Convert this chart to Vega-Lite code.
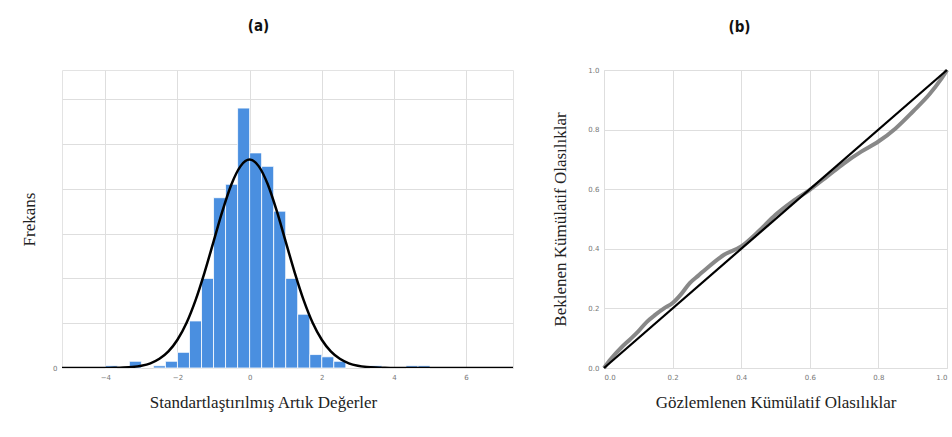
{
  "$schema": "https://vega.github.io/schema/vega-lite/v6.json",
  "background": "white",
  "padding": {"left": 20, "top": 18, "right": 2, "bottom": 5},
  "spacing": 37,
  "datasets": {
    "bins": [
      {"lo": -4.0, "hi": -3.667, "n": 1},
      {"lo": -3.333, "hi": -3.0, "n": 3},
      {"lo": -2.667, "hi": -2.333, "n": 1},
      {"lo": -2.333, "hi": -2.0, "n": 3},
      {"lo": -2.0, "hi": -1.667, "n": 7},
      {"lo": -1.667, "hi": -1.333, "n": 21},
      {"lo": -1.333, "hi": -1.0, "n": 40},
      {"lo": -1.0, "hi": -0.667, "n": 76},
      {"lo": -0.667, "hi": -0.333, "n": 82},
      {"lo": -0.333, "hi": 0.0, "n": 116},
      {"lo": 0.0, "hi": 0.333, "n": 96},
      {"lo": 0.333, "hi": 0.667, "n": 90},
      {"lo": 0.667, "hi": 1.0, "n": 70},
      {"lo": 1.0, "hi": 1.333, "n": 40},
      {"lo": 1.333, "hi": 1.667, "n": 24},
      {"lo": 1.667, "hi": 2.0, "n": 6},
      {"lo": 2.0, "hi": 2.333, "n": 5},
      {"lo": 2.333, "hi": 2.667, "n": 3},
      {"lo": 3.333, "hi": 3.667, "n": 1},
      {"lo": 4.333, "hi": 4.667, "n": 1},
      {"lo": 4.667, "hi": 5.0, "n": 1}
    ],
    "curve": [
      {"z": -5.2, "f": 0}, {"z": -4.5, "f": 0}, {"z": -4.0, "f": 0.03},
      {"z": -3.75, "f": 0.08}, {"z": -3.5, "f": 0.2}, {"z": -3.25, "f": 0.47},
      {"z": -3.0, "f": 1.03}, {"z": -2.75, "f": 2.1}, {"z": -2.5, "f": 4.1},
      {"z": -2.25, "f": 7.4}, {"z": -2.0, "f": 12.6}, {"z": -1.75, "f": 20.1},
      {"z": -1.5, "f": 30.2}, {"z": -1.25, "f": 42.6}, {"z": -1.0, "f": 56.4},
      {"z": -0.75, "f": 70.2}, {"z": -0.5, "f": 82.1}, {"z": -0.25, "f": 90.1},
      {"z": 0.0, "f": 93}, {"z": 0.25, "f": 90.1}, {"z": 0.5, "f": 82.1},
      {"z": 0.75, "f": 70.2}, {"z": 1.0, "f": 56.4}, {"z": 1.25, "f": 42.6},
      {"z": 1.5, "f": 30.2}, {"z": 1.75, "f": 20.1}, {"z": 2.0, "f": 12.6},
      {"z": 2.25, "f": 7.4}, {"z": 2.5, "f": 4.1}, {"z": 2.75, "f": 2.1},
      {"z": 3.0, "f": 1.03}, {"z": 3.25, "f": 0.47}, {"z": 3.5, "f": 0.2},
      {"z": 3.75, "f": 0.08}, {"z": 4.0, "f": 0.03}, {"z": 4.5, "f": 0},
      {"z": 7.3, "f": 0}
    ],
    "pp": [
      {"obs": 0.0, "exp": 0.0}, {"obs": 0.02, "exp": 0.03}, {"obs": 0.05, "exp": 0.068},
      {"obs": 0.075, "exp": 0.095}, {"obs": 0.1, "exp": 0.123}, {"obs": 0.125, "exp": 0.155},
      {"obs": 0.15, "exp": 0.179}, {"obs": 0.175, "exp": 0.2}, {"obs": 0.2, "exp": 0.218},
      {"obs": 0.225, "exp": 0.248}, {"obs": 0.25, "exp": 0.285}, {"obs": 0.275, "exp": 0.31},
      {"obs": 0.3, "exp": 0.335}, {"obs": 0.35, "exp": 0.38}, {"obs": 0.4, "exp": 0.408},
      {"obs": 0.45, "exp": 0.458}, {"obs": 0.5, "exp": 0.514}, {"obs": 0.55, "exp": 0.559},
      {"obs": 0.6, "exp": 0.598}, {"obs": 0.65, "exp": 0.642}, {"obs": 0.7, "exp": 0.687},
      {"obs": 0.75, "exp": 0.726}, {"obs": 0.8, "exp": 0.76}, {"obs": 0.85, "exp": 0.804},
      {"obs": 0.9, "exp": 0.86}, {"obs": 0.95, "exp": 0.92}, {"obs": 0.98, "exp": 0.965},
      {"obs": 1.0, "exp": 1.0}
    ],
    "diag": [{"obs": 0, "exp": 0}, {"obs": 1, "exp": 1}]
  },
  "hconcat": [
    {
      "title": {"text": "(a)", "offset": 36, "dx": -29},
      "width": 451,
      "height": 298,
      "layer": [
        {
          "data": {"name": "bins"},
          "mark": {"type": "bar", "color": "#4a8fe0", "stroke": "white", "strokeWidth": 0.8},
          "encoding": {
            "x": {
              "field": "lo", "type": "quantitative",
              "scale": {"domain": [-5.2, 7.3], "nice": false, "zero": false},
              "axis": {"values": [-4, -2, 0, 2, 4, 6], "title": "Standartlaştırılmış Artık Değerler", "titlePadding": 14, "titleX": 201}
            },
            "x2": {"field": "hi"},
            "y": {
              "field": "n", "type": "quantitative",
              "scale": {"domain": [0, 133], "nice": false},
              "axis": {"values": [0, 20, 40, 60, 80, 100, 120], "labelExpr": "datum.value == 0 ? '0' : ''", "title": "Frekans", "titlePadding": 14}
            },
            "y2": {"datum": 0}
          }
        },
        {
          "data": {"name": "curve"},
          "mark": {"type": "line", "color": "black", "strokeWidth": 2.5, "interpolate": "monotone", "clip": true},
          "encoding": {
            "x": {"field": "z", "type": "quantitative"},
            "y": {"field": "f", "type": "quantitative"}
          }
        }
      ]
    },
    {
      "title": {"text": "(b)", "offset": 27, "dx": -36},
      "width": 343,
      "height": 298,
      "layer": [
        {
          "data": {"name": "pp"},
          "mark": {"type": "line", "color": "#888888", "strokeWidth": 4, "interpolate": "monotone"},
          "encoding": {
            "x": {
              "field": "obs", "type": "quantitative",
              "scale": {"domain": [0, 1], "nice": false},
              "axis": {"values": [0, 0.2, 0.4, 0.6, 0.8, 1.0], "format": ".1f", "title": "Gözlemlenen Kümülatif Olasılıklar", "titlePadding": 14}
            },
            "y": {
              "field": "exp", "type": "quantitative",
              "scale": {"domain": [0, 1], "nice": false},
              "axis": {"values": [0, 0.2, 0.4, 0.6, 0.8, 1.0], "format": ".1f", "title": "Beklenen Kümülatif Olasılıklar", "titlePadding": 18}
            }
          }
        },
        {
          "data": {"name": "diag"},
          "mark": {"type": "line", "color": "black", "strokeWidth": 2.2},
          "encoding": {
            "x": {"field": "obs", "type": "quantitative"},
            "y": {"field": "exp", "type": "quantitative"}
          }
        }
      ]
    }
  ],
  "config": {
    "view": {"stroke": "#e3e3e3"},
    "axis": {
      "labelFont": "DejaVu Sans",
      "labelFontSize": 7,
      "labelColor": "#777777",
      "labelPadding": 5,
      "ticks": false,
      "domain": false,
      "gridColor": "#dedede",
      "titleFont": "Liberation Serif",
      "titleFontSize": 17,
      "titleFontWeight": "normal",
      "titleColor": "#222222"
    },
    "title": {
      "font": "'Liberation Sans Narrow', 'DejaVu Sans Condensed', 'Open Sans', sans-serif",
      "fontSize": 15,
      "fontWeight": "bold",
      "color": "#111111"
    }
  }
}
